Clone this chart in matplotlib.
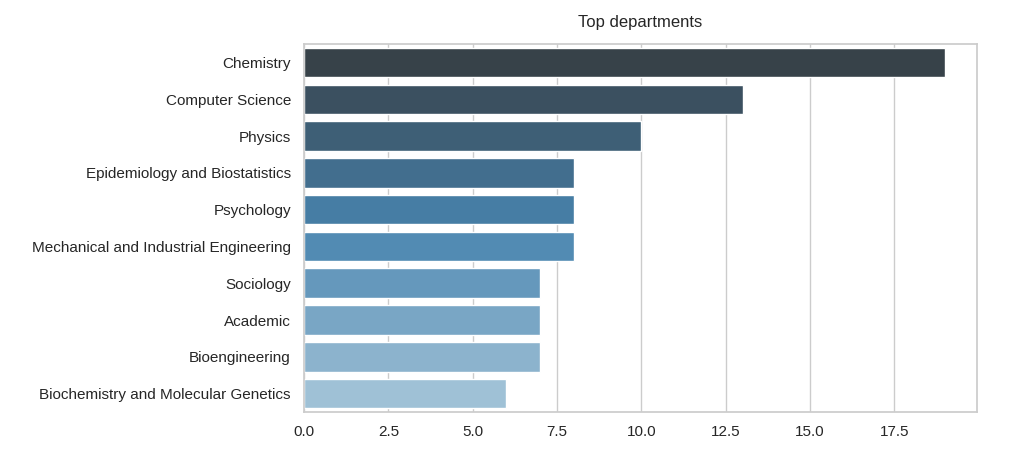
import matplotlib
matplotlib.use("Agg")
from matplotlib import pyplot as plt
import seaborn as sns
import pandas as pd

departments = [
    "Chemistry",
    "Computer Science",
    "Physics",
    "Epidemiology and Biostatistics",
    "Psychology",
    "Mechanical and Industrial Engineering",
    "Sociology",
    "Academic",
    "Bioengineering",
    "Biochemistry and Molecular Genetics",
]
counts = [19, 13, 10, 8, 8, 8, 7, 7, 7, 6]

sns.set_theme(style="whitegrid")
plt.rcParams["font.family"] = ["Liberation Sans", "DejaVu Sans"]

df = pd.DataFrame({"department": departments, "count": counts})

fig, ax = plt.subplots(figsize=(10.24, 4.54), dpi=100)
sns.barplot(
    data=df,
    x="count",
    y="department",
    hue="department",
    palette=sns.color_palette("Blues_d", len(departments))[::-1],
    legend=False,
    ax=ax,
)
ax.set_xlabel("")
ax.set_ylabel("")
ax.set_title("Top departments", pad=12)
fig.subplots_adjust(left=0.297, right=0.954, top=0.903, bottom=0.0925)
plt.savefig("out.png", dpi=100)
